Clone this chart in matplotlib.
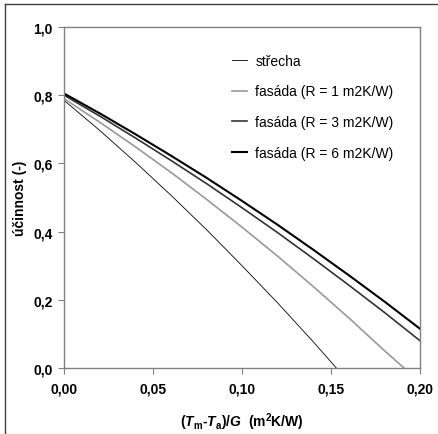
import matplotlib
matplotlib.use("Agg")
import matplotlib.pyplot as plt
from matplotlib.lines import Line2D

plt.rcParams['font.family'] = ['Liberation Sans', 'DejaVu Sans']
plt.rcParams['mathtext.fontset'] = 'custom'
plt.rcParams['mathtext.rm'] = 'Liberation Sans:bold'
plt.rcParams['mathtext.it'] = 'Liberation Sans:bold:italic'

# hodnoty
x_strecha = [0.0, 0.02, 0.04, 0.06, 0.08, 0.10, 0.12, 0.14, 0.153]
y_strecha = [0.785, 0.697, 0.604, 0.507, 0.406, 0.300, 0.191, 0.077, 0.0]

x_r1 = [0.0, 0.02, 0.04, 0.06, 0.08, 0.10, 0.12, 0.14, 0.16, 0.18, 0.191]
y_r1 = [0.790, 0.721, 0.649, 0.574, 0.495, 0.413, 0.328, 0.239, 0.147, 0.051, 0.0]

x_r3 = [0.0, 0.02, 0.04, 0.06, 0.08, 0.10, 0.12, 0.14, 0.16, 0.18, 0.20]
y_r3 = [0.800, 0.739, 0.675, 0.609, 0.541, 0.470, 0.397, 0.321, 0.243, 0.163, 0.080]

x_r6 = [0.0, 0.02, 0.04, 0.06, 0.08, 0.10, 0.12, 0.14, 0.16, 0.18, 0.20]
y_r6 = [0.805, 0.747, 0.686, 0.623, 0.558, 0.490, 0.420, 0.347, 0.272, 0.195, 0.115]

labels = ["střecha", "fasáda (R = 1 m2K/W)", "fasáda (R = 3 m2K/W)", "fasáda (R = 6 m2K/W)"]
xticks = [0.0, 0.05, 0.10, 0.15, 0.20]
xticklabels = ["0,00", "0,05", "0,10", "0,15", "0,20"]
yticks = [0.0, 0.2, 0.4, 0.6, 0.8, 1.0]
yticklabels = ["0,0", "0,2", "0,4", "0,6", "0,8", "1,0"]

fig = plt.figure(figsize=(4.38, 4.35), dpi=100)
ax = fig.add_axes([64/438, 1 - 369/435, 356/438, 341/435])

ax.plot(x_strecha, y_strecha, color="black", lw=0.6, label=labels[0])
ax.plot(x_r1, y_r1, color="#999999", lw=1.2, label=labels[1])
ax.plot(x_r3, y_r3, color="#333333", lw=1.2, label=labels[2])
ax.plot(x_r6, y_r6, color="black", lw=1.5, label=labels[3])

ax.set_xlim(0, 0.20)
ax.set_ylim(0, 1.0)
ax.set_xticks(xticks)
ax.set_xticklabels(xticklabels, fontweight="bold", fontsize=10)
ax.set_yticks(yticks)
ax.set_yticklabels(yticklabels, fontweight="bold", fontsize=10)
ax.tick_params(direction="out", length=4, color="#808080", pad=4)
ax.tick_params(axis="x", pad=6)
for s in ax.spines.values():
    s.set_color("#808080")
    s.set_linewidth(1.0)

ax.set_ylabel("účinnost (-)", fontweight="bold", fontsize=10)
ax.yaxis.set_label_coords(-0.105, 0.5)
ax.set_xlabel(r"($\mathit{T}_{\rm m}$-$\mathit{T}_{\rm a}$)/$\mathit{G}$  (m$^{\rm 2}$K/W)",
              fontweight="bold", fontsize=10)
ax.xaxis.set_label_coords(0.5, -0.125)

ax.legend(loc="upper left", bbox_to_anchor=(0.452, 0.942), frameon=False, fontsize=10,
          borderpad=0, handlelength=1.1, handletextpad=0.6, labelspacing=1.2)

# ramecek celeho grafu
fig.add_artist(Line2D([5/438, 5/438], [0, 1 - 5/435], color="#404040", lw=1))
fig.add_artist(Line2D([5/438, 1], [1 - 5/435, 1 - 5/435], color="#404040", lw=1))

fig.savefig("out.png", dpi=100)
